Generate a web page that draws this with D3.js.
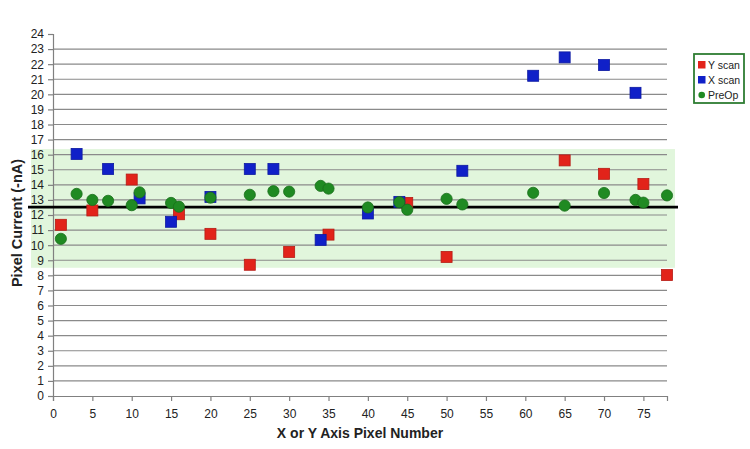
<!DOCTYPE html>
<html>
<head>
<meta charset="utf-8">
<script src="https://cdn.jsdelivr.net/npm/d3@7"></script>
<style>
  body { margin: 0; background: #fff; }
  svg { font-family: "Liberation Sans", Arial, sans-serif; }
</style>
</head>
<body>
<svg id="chart" width="750" height="449"></svg>
<script>
// ---- data ----
var yScanX = [1, 5, 10, 16, 20, 25, 30, 35, 45, 50, 65, 70, 75, 78];
var yScanV = [11.35, 12.3, 14.35, 12.05, 10.75, 8.7, 9.55, 10.7, 12.8, 9.22, 15.62, 14.73, 14.05, 8.02];

var xScanX = [3, 7, 11, 15, 20, 25, 28, 34, 40, 44, 52, 61, 65, 70, 74];
var xScanV = [16.05, 15.05, 13.1, 11.55, 13.2, 15.05, 15.05, 10.35, 12.1, 12.87, 14.93, 21.23, 22.45, 21.94, 20.1];

var preOpX = [1, 3, 5, 7, 10, 11, 15, 16, 20, 25, 28, 30, 34, 35, 40, 44, 45, 50, 52, 61, 65, 70, 74, 75, 78];
var preOpV = [10.42, 13.4, 13.0, 12.94, 12.65, 13.5, 12.8, 12.55, 13.15, 13.34, 13.58, 13.55, 13.93, 13.75, 12.5, 12.85, 12.35, 13.07, 12.7, 13.47, 12.62, 13.46, 13.0, 12.82, 13.3];

var yTicks = d3.range(0, 25);
var xTicks = d3.range(0, 80, 5);
var bandRange = [8.5, 16.37];
var meanLevel = 12.52;

var legendItems = [
  { name: "Y scan", color: "#e2231a", shape: "square" },
  { name: "X scan", color: "#1020c8", shape: "square" },
  { name: "PreOp",  color: "#1f8a22", shape: "circle" }
];

// ---- layout ----
var svg = d3.select("#chart");
var plotLeft = 53, plotRight = 667, plotTop = 34, plotBottom = 396;

var x = d3.scaleLinear().domain([0, 78]).range([plotLeft, plotRight]);
var y = d3.scaleLinear().domain([0, 24]).range([plotBottom, plotTop]);

// shaded band (sticks out a bit past the plot on both sides)
svg.append("rect")
  .attr("x", 31)
  .attr("y", y(bandRange[1]))
  .attr("width", 675 - 31)
  .attr("height", y(bandRange[0]) - y(bandRange[1]))
  .attr("fill", "#e1f6dc");

// gridlines
svg.append("g")
  .selectAll("line")
  .data(yTicks.filter(function(d) { return d > 0 && d < 24; }))
  .enter()
  .append("line")
  .attr("x1", plotLeft)
  .attr("x2", plotRight)
  .attr("y1", function(d) { return y(d); })
  .attr("y2", function(d) { return y(d); })
  .attr("stroke", "#8a8a8a")
  .attr("stroke-width", 1.2);

// axes
var yAxis = d3.axisLeft(y).tickValues(yTicks).tickSize(5).tickPadding(4);
var xAxis = d3.axisBottom(x).tickValues(xTicks).tickSize(5).tickPadding(8);

var gy = svg.append("g").attr("transform", "translate(" + plotLeft + ",0)").call(yAxis);
var gx = svg.append("g").attr("transform", "translate(0," + plotBottom + ")").call(xAxis);

[gy, gx].forEach(function(g) {
  g.select(".domain").attr("stroke", "#808080").attr("stroke-width", 1.2);
  g.selectAll(".tick line").attr("stroke", "#808080").attr("stroke-width", 1.2);
  g.selectAll(".tick text")
    .attr("fill", "#222")
    .style("font-size", "12px")
    .style("font-family", "'Liberation Sans', Arial, sans-serif");
});

// mean line
svg.append("line")
  .attr("x1", 28)
  .attr("x2", 678)
  .attr("y1", y(meanLevel))
  .attr("y2", y(meanLevel))
  .attr("stroke", "#000")
  .attr("stroke-width", 2.6);

// markers
var sq = 11;

function drawSquares(xs, vs, color) {
  svg.append("g")
    .selectAll("rect")
    .data(xs.map(function(d, i) { return [d, vs[i]]; }))
    .enter()
    .append("rect")
    .attr("x", function(d) { return x(d[0]) - sq / 2; })
    .attr("y", function(d) { return y(d[1]) - sq / 2; })
    .attr("width", sq)
    .attr("height", sq)
    .attr("fill", color)
    .attr("stroke", d3.color(color).darker(0.6))
    .attr("stroke-width", 0.8);
}

drawSquares(yScanX, yScanV, legendItems[0].color);
drawSquares(xScanX, xScanV, legendItems[1].color);

svg.append("g")
  .selectAll("circle")
  .data(preOpX.map(function(d, i) { return [d, preOpV[i]]; }))
  .enter()
  .append("circle")
  .attr("cx", function(d) { return x(d[0]); })
  .attr("cy", function(d) { return y(d[1]); })
  .attr("r", 5.6)
  .attr("fill", legendItems[2].color)
  .attr("stroke", d3.color(legendItems[2].color).darker(0.6))
  .attr("stroke-width", 0.8);

// axis titles
svg.append("text")
  .attr("transform", "translate(22,223) rotate(-90)")
  .attr("text-anchor", "middle")
  .attr("fill", "#222")
  .style("font-size", "14.5px")
  .style("font-weight", "bold")
  .text("Pixel Current (-nA)");

svg.append("text")
  .attr("x", 360)
  .attr("y", 438)
  .attr("text-anchor", "middle")
  .attr("fill", "#222")
  .style("font-size", "14px")
  .style("font-weight", "bold")
  .text("X or Y Axis Pixel Number");

// legend
var legend = svg.append("g").attr("transform", "translate(694,54)");
legend.append("rect")
  .attr("width", 50)
  .attr("height", 49)
  .attr("fill", "#fff")
  .attr("stroke", "#2e7d32")
  .attr("stroke-width", 1.8);

legendItems.forEach(function(item, i) {
  var row = legend.append("g").attr("transform", "translate(4," + (11 + i * 15) + ")");
  if (item.shape === "square") {
    row.append("rect").attr("x", 0).attr("y", -4).attr("width", 7.5).attr("height", 7.5).attr("fill", item.color);
  } else {
    row.append("circle").attr("cx", 3.7).attr("cy", 0).attr("r", 3.3).attr("fill", item.color);
  }
  row.append("text")
    .attr("x", 10)
    .attr("y", 4)
    .attr("fill", "#222")
    .style("font-size", "10.5px")
    .text(item.name);
});
</script>
</body>
</html>
